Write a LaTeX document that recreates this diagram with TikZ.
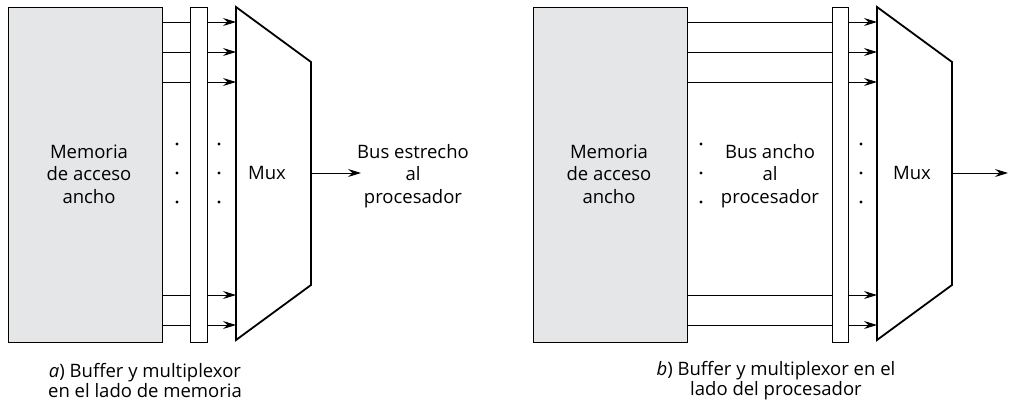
\documentclass[tikz,border=0pt]{standalone}
\usepackage{fontspec}
\setmainfont{Open Sans}
\usetikzlibrary{arrows.meta}
\definecolor{memgray}{HTML}{E5E6E8}
\tikzset{
  membox/.style={draw, line width=0.9pt, fill=memgray},
  bufbox/.style={draw, line width=0.9pt, fill=white},
  muxshape/.style={draw, line width=1.8pt, line join=miter},
  sig/.style={line width=0.9pt, -{Stealth[length=13pt,width=8pt,inset=4.5pt]}},
  wire/.style={line width=0.9pt},
  lbl/.style={align=center, font=\fontsize{18.5}{22.5}\selectfont, inner sep=0pt},
  captxt/.style={align=center, font=\fontsize{18.5}{20}\selectfont, inner sep=0pt},
  dotn/.style={circle, fill=black, inner sep=0pt, minimum size=3.2pt}
}
\begin{document}
\begin{tikzpicture}[x=1pt,y=-1pt]
\useasboundingbox (0,0) rectangle (1009,405);
% ---------- (a) ----------
\node[membox, minimum width=154pt, minimum height=335pt, anchor=north west] (memA) at (8,7) {};
\node[lbl] (memAt) at (89,174) {Memoria\\de acceso\\ancho};
\node[bufbox, minimum width=17pt, minimum height=335pt, anchor=north west] (bufA) at (190,7) {};
\draw[muxshape] (236,7) -- (311,62) -- (311,285) -- (236,340) -- cycle;
\coordinate (muxAr) at (311,173);
\node[lbl] (muxAt) at (267,173) {Mux};
\foreach \yy/\n in {22/1,52/2,82/3,295/4,325/5}{
  \coordinate (aL\n) at (162,\yy);
  \coordinate (aB1\n) at (190,\yy);
  \coordinate (aB2\n) at (207,\yy);
  \coordinate (aM\n) at (236,\yy);
  \draw[wire] (aL\n) -- (aB1\n);
  \draw[sig] (aB2\n) -- (aM\n);
}
\foreach \yy/\n in {144/1,173/2,202/3}{
  \node[dotn] (adl\n) at (177,\yy) {};
  \node[dotn] (adr\n) at (219,\yy) {};
}
\node[lbl] (busA) at (413,176) {Bus estrecho\\al\\procesador};
\coordinate (outA) at (361,173);
\draw[sig] (muxAr) -- (outA);
\node[captxt] (capA) at (145,381) {\textit{a}) Buffer y multiplexor\\en el lado de memoria};
% ---------- (b) ----------
\node[membox, minimum width=154pt, minimum height=335pt, anchor=north west] (memB) at (533,7) {};
\node[lbl] (memBt) at (609,174) {Memoria\\de acceso\\ancho};
\node[bufbox, minimum width=16pt, minimum height=335pt, anchor=north west] (bufB) at (832,7) {};
\draw[muxshape] (877,7) -- (952,62) -- (952,285) -- (877,340) -- cycle;
\coordinate (muxBr) at (952,173);
\node[lbl] (muxBt) at (912,173) {Mux};
\foreach \yy/\n in {22/1,52/2,82/3,295/4,325/5}{
  \coordinate (bL\n) at (687,\yy);
  \coordinate (bB1\n) at (832,\yy);
  \coordinate (bB2\n) at (848,\yy);
  \coordinate (bM\n) at (877,\yy);
  \draw[wire] (bL\n) -- (bB1\n);
  \draw[sig] (bB2\n) -- (bM\n);
}
\foreach \yy/\n in {144/1,173/2,202/3}{
  \node[dotn] (bdl\n) at (701,\yy) {};
  \node[dotn] (bdr\n) at (861,\yy) {};
}
\node[lbl] (busB) at (770,176) {Bus ancho\\al\\procesador};
\coordinate (outB) at (1008,173);
\draw[sig] (muxBr) -- (outB);
\node[captxt] (capB) at (776,381) {\textit{b}) Buffer y multiplexor en el\\lado del procesador};
\end{tikzpicture}
\end{document}
